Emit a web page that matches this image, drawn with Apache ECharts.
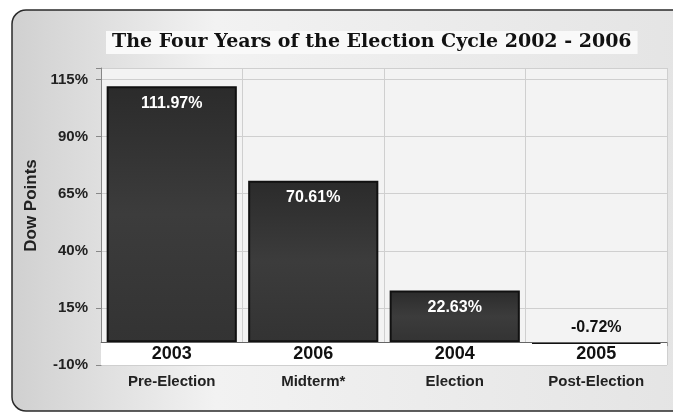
<!DOCTYPE html>
<html>
<head>
<meta charset="utf-8">
<script src="https://cdn.jsdelivr.net/npm/echarts@6/dist/echarts.min.js"></script>
<style>
  html, body { margin: 0; padding: 0; background: #fff; }
  #chart { width: 673px; height: 417px; }
</style>
</head>
<body>
<div id="chart"></div>
<script>
// values
const phases = ['Pre-Election', 'Midterm*', 'Election', 'Post-Election']
const years = ['2003', '2006', '2004', '2005']
const gains = [111.97, 70.61, 22.63, -0.72]
const tickLabels = [-10, 15, 40, 65, 90, 115]

const font = '"Liberation Sans", Arial, sans-serif'

const chart = echarts.init(document.getElementById('chart'))

const barFill = new echarts.graphic.LinearGradient(0, 0, 0, 1, [
  { offset: 0, color: '#2b2b2b' },
  { offset: 0.5, color: '#3c3c3c' },
  { offset: 1, color: '#333333' },
])

chart.setOption({
  animation: false,
  graphic: [
    {
      type: 'rect',
      z: -10,
      shape: { x: 12, y: 10, width: 680, height: 401, r: 14 },
      style: {
        fill: new echarts.graphic.LinearGradient(0, 0, 1, 0, [
          { offset: 0, color: '#d0d0d0' },
          { offset: 0.3, color: '#f2f2f2' },
          { offset: 1, color: '#e4e4e4' },
        ]),
        stroke: '#2a2a2a',
        lineWidth: 1.5,
      },
    },
  ],
  title: {
    text: 'The Four Years of the Election Cycle 2002 - 2006',
    left: 106,
    top: 31,
    padding: [2, 6],
    backgroundColor: '#f9f9f9',
    textStyle: {
      fontFamily: '"DejaVu Serif", serif',
      fontWeight: 'bold',
      fontSize: 19,
      color: '#111',
    },
  },
  grid: { left: 101, right: 6, top: 68, bottom: 52, show: true, backgroundColor: '#f3f3f3', borderWidth: 0 },
  xAxis: [
    {
      type: 'category',
      data: phases,
      position: 'bottom',
      axisLine: { show: true, lineStyle: { color: '#999' } },
      axisTick: { show: true, length: 4, lineStyle: { color: '#999' } },
      splitLine: { show: true, lineStyle: { color: '#cfcfcf' } },
      axisLabel: {
        margin: 9,
        fontFamily: font,
        fontWeight: 'bold',
        fontSize: 15,
        color: '#222',
      },
    },
    {
      type: 'category',
      data: years,
      position: 'bottom',
      z: 10,
      axisLine: { show: false },
      axisTick: { show: false },
      axisLabel: {
        inside: true,
        margin: 2,
        fontFamily: font,
        fontWeight: 'bold',
        fontSize: 18,
        color: '#111',
      },
    },
  ],
  yAxis: {
    type: 'value',
    min: -10,
    max: 120,
    interval: 25,
    name: 'Dow Points',
    nameLocation: 'middle',
    nameGap: 56,
    nameTextStyle: {
      fontFamily: font,
      fontWeight: 'bold',
      fontSize: 17,
      color: '#222',
      padding: [0, 0, 0, 22],
    },
    axisLine: { show: true, lineStyle: { color: '#888' } },
    axisTick: { show: true, length: 5, lineStyle: { color: '#888' } },
    splitLine: { lineStyle: { color: '#cfcfcf' } },
    axisLabel: {
      margin: 13,
      fontFamily: font,
      fontWeight: 'bold',
      fontSize: 15,
      color: '#222',
      formatter: (v) => (tickLabels.includes(v) ? v + '%' : ''),
    },
  },
  series: [
    {
      type: 'bar',
      data: gains.map((v) => ({
        value: v,
        label: v < 0
          ? { position: 'top', distance: 6, color: '#111' }
          : { position: 'insideTop', distance: 9, color: '#fff' },
      })),
      barCategoryGap: '8%',
      itemStyle: { color: barFill, borderColor: '#111', borderWidth: 2 },
      label: {
        show: true,
        fontFamily: font,
        fontWeight: 'bold',
        fontSize: 16,
        formatter: (p) => p.value.toFixed(2) + '%',
      },
      markArea: {
        silent: true,
        itemStyle: { color: '#ffffff' },
        data: [[{ yAxis: -10 }, { yAxis: 0 }]],
      },
      markLine: {
        silent: true,
        symbol: 'none',
        label: { show: false },
        lineStyle: { color: '#666', type: 'solid', width: 1 },
        data: [{ yAxis: 0 }],
      },
    },
  ],
})
</script>
</body>
</html>
